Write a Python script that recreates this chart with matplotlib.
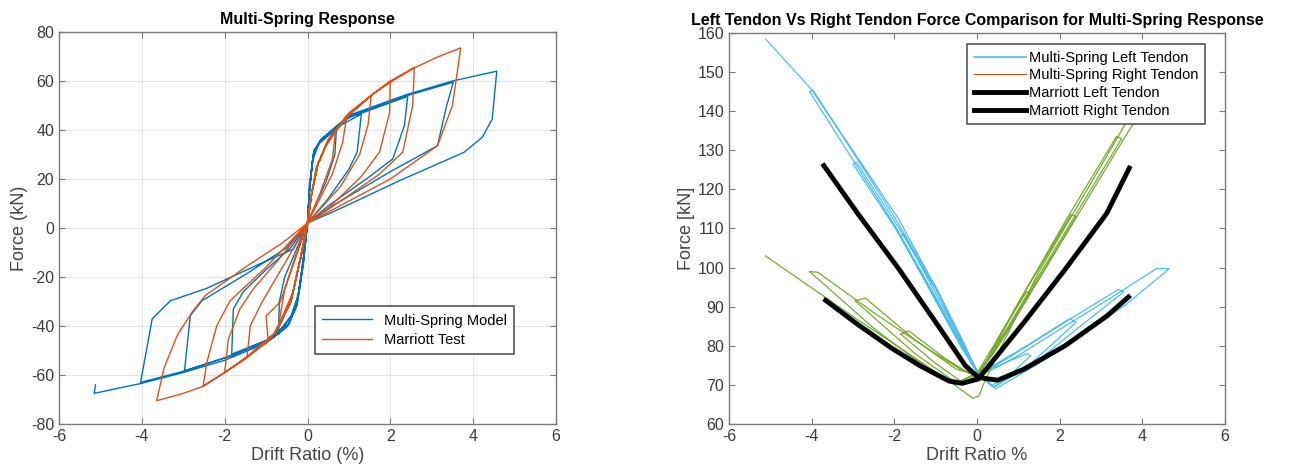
import matplotlib.pyplot as plt
from matplotlib.lines import Line2D

plt.rcParams['font.family'] = ['Liberation Sans', 'DejaVu Sans']
plt.rcParams['axes.unicode_minus'] = False

# ---- left plot: hysteresis, (drift %, force kN)
model_pts = [
    (0.0, 2), (0.05, 15), (0.12, 27), (0.25, 34), (0.7, 40.5),
    (0.66, 30), (0.45, 19), (0.15, 8), (0.0, 2),
    (-0.08, -10), (-0.18, -24), (-0.32, -34), (-0.7, -43.5),
    (-0.68, -30), (-0.55, -20), (-0.3, -10), (0.0, 2),
    (0.05, 16), (0.13, 29), (0.3, 35), (0.7, 41), (1.3, 46.5),
    (1.2, 31), (1.0, 24), (0.5, 12), (0.0, 2),
    (-0.1, -12), (-0.22, -27), (-0.4, -36), (-0.8, -44.5), (-1.83, -51.5),
    (-1.79, -33), (-1.55, -26), (-1.0, -17), (-0.4, -8), (0.0, 2),
    (0.05, 16), (0.14, 30), (0.3, 35.5), (1.0, 45), (2.42, 53.7),
    (2.34, 41.8), (2.06, 28.2), (1.5, 21), (0.5, 9), (0.0, 2),
    (-0.1, -13), (-0.25, -30), (-0.45, -39), (-1.0, -46), (-1.8, -52), (-2.97, -58.3),
    (-2.83, -35.8), (-2.55, -29.7), (-1.5, -19), (-0.5, -8), (0.0, 2),
    (0.05, 17), (0.15, 31), (0.32, 36), (1.0, 45.5), (2.4, 54), (3.52, 59.5),
    (3.34, 48.6), (3.14, 33.6), (2.0, 23), (0.6, 9), (0.0, 2),
    (-0.1, -14), (-0.25, -31), (-0.45, -39.5), (-1.0, -46.5), (-2.0, -53), (-3.0, -58.5), (-4.03, -63),
    (-3.75, -37.1), (-3.31, -29.7), (-2.43, -24.6), (-1.2, -15), (-0.34, -8.6), (0.0, 2),
    (0.05, 18), (0.16, 32), (0.35, 36.5), (1.0, 46), (2.4, 54.5), (3.5, 60), (4.57, 64),
    (4.46, 44.5), (4.22, 37), (3.78, 30.9), (2.22, 19.3), (0.8, 8), (0.0, 2),
    (-0.1, -15), (-0.26, -32), (-0.5, -40.5), (-1.0, -47), (-2.0, -54), (-3.0, -59),
    (-4.03, -63.5), (-4.6, -65.5), (-5.15, -67.5), (-5.12, -64),
]

test_pts = [
    (0.0, 0), (0.08, 12), (0.2, 24), (0.4, 32), (0.68, 40),
    (0.6, 28), (0.3, 14), (0.0, 2),
    (-0.15, -10), (-0.35, -26), (-0.7, -40),
    (-0.55, -25), (-0.2, -8), (0.0, 2),
    (0.1, 14), (0.25, 26), (0.45, 34), (0.95, 46),
    (0.85, 35), (0.6, 22), (0.0, 2),
    (-0.15, -11), (-0.4, -30), (-0.7, -41), (-0.95, -46),
    (-1.0, -36), (-0.65, -30), (-0.3, -12), (0.0, 2),
    (0.1, 14), (0.25, 26), (0.45, 34), (0.95, 45.5), (1.54, 54),
    (1.46, 42), (1.26, 30), (0.8, 17), (0.0, 2),
    (-0.15, -11), (-0.4, -30), (-0.75, -42), (-1.0, -47), (-1.46, -52.8),
    (-1.38, -39.9), (-1.1, -30.3), (-0.5, -13), (0.0, 2),
    (0.1, 14), (0.25, 26), (0.5, 36), (1.0, 46), (1.5, 53.5), (2.0, 60),
    (1.98, 47), (1.74, 31), (1.3, 21), (0.5, 8), (0.0, 2),
    (-0.15, -11), (-0.4, -30), (-0.8, -43), (-1.4, -52), (-2.0, -59),
    (-1.91, -45.3), (-1.63, -33), (-1.31, -24.9), (-0.6, -11), (0.0, 2),
    (0.1, 14), (0.25, 26), (0.5, 36), (1.0, 46.5), (1.6, 55), (2.0, 60), (2.58, 65.6),
    (2.54, 50), (2.3, 31), (1.74, 22), (0.8, 11), (0.0, 2),
    (-0.15, -11), (-0.4, -30), (-0.8, -43), (-1.5, -53), (-2.0, -59), (-2.52, -64.4),
    (-2.43, -54.8), (-2.19, -39.9), (-1.87, -29.7), (-1.0, -16), (0.0, 2),
    (0.1, 14), (0.25, 26), (0.5, 36), (1.0, 47), (1.6, 55), (2.1, 60.5), (2.6, 65.5),
    (3.1, 69.5), (3.7, 73.5),
    (3.5, 50), (3.14, 33.6), (2.0, 20), (1.0, 11), (0.0, 2),
    (-0.15, -11), (-0.4, -30), (-0.8, -43), (-1.5, -53.5), (-2.0, -59), (-2.5, -64.5),
    (-3.0, -67.5), (-3.64, -70.5),
    (-3.47, -57.5), (-3.15, -44), (-2.79, -34.4), (-2.47, -27.6), (-1.5, -16), (-0.6, -6), (0.0, 2),
]

# ---- right plot: tendon forces (drift %, force kN)
ms_left_pts = [
    (0.0, 73.0),
    (0.35, 69.8), (0.8, 72.5), (1.3, 77.5), (1.2, 78.0), (0.5, 74.8), (0.0, 73.2),
    (-0.4, 80.0), (-1.0, 91.5), (-1.85, 108.0), (-1.78, 108.6), (-1.0, 93.5), (-0.4, 81.5), (0.0, 73.5),
    (0.4, 69.5), (1.2, 74.5), (2.4, 86.0), (2.25, 87.0), (1.2, 80.0), (0.4, 75.0), (0.0, 73.5),
    (-0.4, 80.5), (-1.0, 92.0), (-2.0, 110.5), (-3.0, 126.5), (-2.92, 127.0), (-2.0, 112.0),
    (-1.0, 94.5), (-0.4, 82.0), (0.0, 73.5),
    (0.4, 69.3), (1.5, 76.5), (2.5, 85.0), (3.55, 93.8), (3.42, 94.4), (2.2, 86.5), (1.0, 78.5),
    (0.3, 74.0), (0.0, 73.5),
    (-0.4, 80.8), (-1.0, 92.5), (-2.0, 111.0), (-3.0, 127.5), (-4.05, 145.0), (-3.97, 145.4),
    (-3.0, 129.5), (-2.0, 113.0), (-1.0, 95.0), (-0.4, 82.5), (0.0, 73.5),
    (0.45, 69.0), (1.5, 75.5), (2.5, 82.5), (3.6, 90.5), (4.65, 99.7), (4.35, 99.8), (3.2, 92.0),
    (2.2, 85.5), (1.0, 77.5), (0.3, 73.5), (0.0, 73.0),
    (-0.3, 79.5), (-0.9, 93.0), (-1.9, 112.5), (-2.9, 128.3), (-4.0, 145.5), (-4.6, 152.5),
    (-5.12, 158.5),
]

ms_right_pts = [
    (0.0, 72.5),
    (0.4, 78.0), (0.9, 86.5), (1.3, 93.5), (1.2, 93.8), (0.6, 83.5), (0.1, 73.5),
    (-0.4, 71.0), (-1.0, 75.5), (-1.85, 83.0), (-1.65, 83.8), (-0.8, 77.0), (-0.2, 73.0), (0.0, 72.5),
    (0.5, 80.0), (1.2, 92.0), (2.4, 113.0), (2.28, 113.6), (1.2, 94.5), (0.4, 80.0), (0.0, 73.0),
    (-0.5, 70.5), (-1.5, 78.0), (-2.95, 91.5), (-2.7, 92.2), (-1.5, 81.5), (-0.5, 74.0), (0.0, 72.5),
    (0.5, 80.5), (1.5, 98.0), (2.5, 115.5), (3.5, 133.0), (3.38, 133.6), (2.2, 113.0), (1.0, 91.0),
    (0.3, 77.0), (0.0, 72.5),
    (-0.5, 70.0), (-1.5, 76.5), (-2.5, 84.5), (-4.05, 99.0), (-3.85, 98.8), (-2.5, 88.5),
    (-1.3, 80.0), (-0.4, 74.0), (0.0, 72.5),
    (0.5, 80.0), (1.5, 97.0), (2.5, 114.5), (3.5, 132.0), (4.6, 151.0), (4.4, 151.5),
    (3.0, 126.0), (1.5, 99.0), (0.5, 78.0), (0.15, 70.0), (0.05, 67.2), (-0.1, 66.6),
    (-0.88, 72.5), (-2.89, 86.7), (-5.12, 103.0),
]

marriott_left_pts = [
    (-3.74, 126.6), (-2.89, 113.9), (-1.88, 99.5), (-0.88, 84.2), (-0.28, 74.9), (0.03, 71.9),
    (0.5, 71.2), (1.13, 74.0), (2.13, 80.0), (3.14, 87.6), (3.71, 92.9),
]
marriott_right_pts = [
    (-3.71, 92.0), (-2.89, 85.5), (-2.08, 79.5), (-1.38, 74.9), (-0.68, 71.0), (-0.36, 70.4),
    (0.03, 71.5), (1.13, 85.9), (2.13, 99.5), (3.14, 113.9), (3.71, 126.0),
]

edge = '#7a7a7a'
txt = '#3a3a3a'


def style(ax):
    for s in ax.spines.values():
        s.set_color(edge)
        s.set_linewidth(1.0)
    ax.tick_params(direction='in', length=4, width=0.8, color=edge,
                   labelcolor=txt, labelsize=11.5, top=True, right=True)
    ax.set_xlim(-6, 6)
    ax.set_xticks(range(-6, 7, 2))


fig = plt.figure(figsize=(13.01, 4.73), dpi=100)
ax1 = fig.add_axes([59 / 1301, 1 - 424 / 473, 497 / 1301, 392 / 473])
ax2 = fig.add_axes([729 / 1301, 1 - 424 / 473, 496 / 1301, 391 / 473])

# left
mx, my = zip(*model_pts)
tx, ty = zip(*test_pts)
ax1.plot(mx, my, color='#0072BD', lw=1.0, label='Multi-Spring Model')
ax1.plot(tx, ty, color='#D95319', lw=1.0, label='Marriott Test')
style(ax1)
ax1.set_ylim(-80, 80)
ax1.set_yticks(range(-80, 81, 20))
ax1.grid(True, color='#e3e3e3', lw=0.8)
ax1.set_axisbelow(True)
ax1.set_title('Multi-Spring Response', fontsize=11.5, fontweight='bold', pad=6)
ax1.set_xlabel('Drift Ratio (%)', fontsize=13, color='#444444', labelpad=2)
ax1.set_ylabel('Force (kN)', fontsize=13, color='#444444', labelpad=2)
leg1 = ax1.legend(loc='lower right', bbox_to_anchor=(0.93, 0.16), fontsize=10.5,
                  fancybox=False, framealpha=1, edgecolor='#555555',
                  handlelength=3.4, borderpad=0.5, labelspacing=0.35)
leg1.get_frame().set_linewidth(1.2)

# right
lx, ly = zip(*ms_left_pts)
rx, ry = zip(*ms_right_pts)
ax2.plot(lx, ly, color='#4DBEEE', lw=0.9)
ax2.plot(rx, ry, color='#77AC30', lw=0.9)
bx, by = zip(*marriott_left_pts)
cx, cy = zip(*marriott_right_pts)
ax2.plot(bx, by, color='black', lw=3.5, solid_capstyle='butt')
ax2.plot(cx, cy, color='black', lw=3.5, solid_capstyle='butt')
style(ax2)
ax2.set_ylim(60, 160)
ax2.set_yticks(range(60, 161, 10))
ax2.set_title('Left Tendon Vs Right Tendon Force Comparison for Multi-Spring Response',
              fontsize=11.5, fontweight='bold', pad=6)
ax2.set_xlabel('Drift Ratio %', fontsize=13, color='#444444', labelpad=2)
ax2.set_ylabel('Force [kN]', fontsize=13, color='#444444', labelpad=2)
handles = [
    Line2D([], [], color='#4DBEEE', lw=1.2),
    Line2D([], [], color='#D95319', lw=0.8),
    Line2D([], [], color='black', lw=3.5),
    Line2D([], [], color='black', lw=3.5),
]
labels = ['Multi-Spring Left Tendon', 'Multi-Spring Right Tendon',
          'Marriott Left Tendon', 'Marriott Right Tendon']
leg2 = ax2.legend(handles, labels, loc='upper right', bbox_to_anchor=(0.975, 0.99),
                  fontsize=10.5, fancybox=False, framealpha=1, edgecolor='#555555',
                  handlelength=3.6, handletextpad=0.2, borderpad=0.45, labelspacing=0.25)
leg2.get_frame().set_linewidth(1.2)

fig.savefig('out.png', dpi=100)
